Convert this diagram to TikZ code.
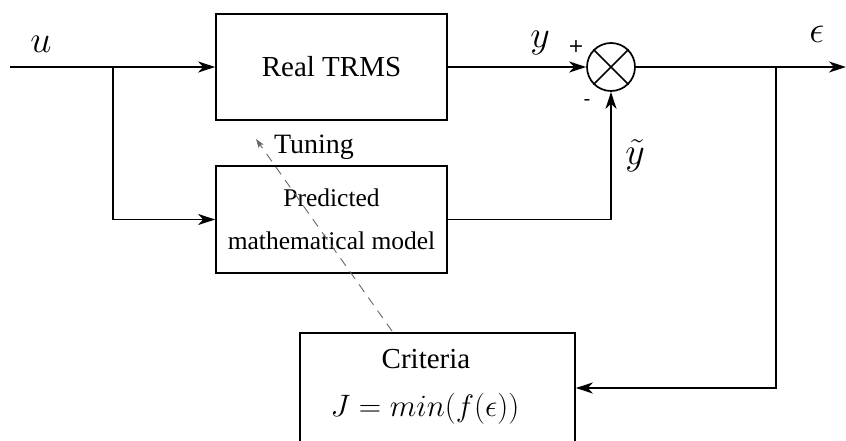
\documentclass[tikz,border=0pt]{standalone}
\usepackage{fix-cm}
\usepackage{fontspec}
\setmainfont{Liberation Serif}
\newfontfamily\signfont{DejaVu Sans}
\usetikzlibrary{arrows.meta,positioning,calc}

\tikzset{
  blk/.style={draw, line width=1.7pt, fill=white, inner sep=0pt, align=center},
  sig/.style={line width=1.7pt, -{Stealth[length=17pt,width=11pt,inset=5pt]}},
  wire/.style={line width=1.7pt},
  tune/.style={draw=black!60, line width=0.9pt, dash pattern=on 9pt off 7pt,
    -{Stealth[length=9pt,width=6pt,inset=2pt]}},
  lbl/.style={inner sep=0pt},
  mathlbl/.style={inner sep=0pt, font=\fontsize{38}{44}\selectfont},
  signlbl/.style={inner sep=0pt, font=\signfont\fontsize{19}{22}\selectfont},
  sumj/.style={draw, circle, line width=1.7pt, minimum size=48pt, inner sep=0pt}
}

\begin{document}
\begin{tikzpicture}[x=1pt,y=-1pt]
  \useasboundingbox (0,0) rectangle (846,441);
  \clip (0,0) rectangle (846,441);

  % blocks
  \node[blk, minimum width=231pt, minimum height=106pt,
        font=\fontsize{29}{34}\selectfont] (real) at (331.5,67) {Real TRMS};
  \node[blk, minimum width=231pt, minimum height=107pt,
        font=\fontsize{25.5}{43}\selectfont] (pred) at (331.5,219.5)
        {Predicted\\mathematical model};
  \node[blk, minimum width=275pt, minimum height=116pt, anchor=north] (crit) at (437.5,332) {};
  \node[lbl, font=\fontsize{29}{34}\selectfont] (crittitle) at (426,359) {Criteria};
  \node[lbl, font=\fontsize{31}{36}\selectfont] (critform) at (425,409) {$J = min(f(\epsilon))$};

  % summing junction
  \node[sumj] (sum) at (611,67) {};
  \draw[wire] (sum.north east) -- (sum.south west);
  \draw[wire] (sum.north west) -- (sum.south east);

  % branch points and ends
  \coordinate (in) at (10,67);
  \coordinate (split) at (113,67);
  \coordinate (tap) at (776,67);
  \coordinate (out) at (846,67);

  % signal paths
  \draw[sig] (in) -- (real.west);
  \draw[sig] (split) |- (pred.west);
  \draw[sig] (real.east) -- (sum.west);
  \draw[sig] (pred.east) -| (sum.south);
  \draw[sig] (sum.east) -- (out);
  \draw[sig] (tap) |- (crit.east |- 0,388);

  % tuning feedback
  \coordinate (tstart) at (392,331);
  \coordinate (tend) at (256,139);
  \draw[tune] (tstart) -- (tend);
  \node[lbl, font=\fontsize{28}{33}\selectfont] (tuning) at (314,147) {Tuning};

  % signal labels
  \node[mathlbl] (ulbl) at (41,44) {$u$};
  \node[mathlbl] (ylbl) at (540,43) {$y$};
  \node[mathlbl] (ytlbl) at (635,156) {$\tilde{y}$};
  \node[mathlbl] (elbl) at (817,34) {$\epsilon$};
  \node[signlbl] (plus) at (576,47) {+};
  \node[signlbl] (minus) at (587,103) {-};
\end{tikzpicture}
\end{document}
